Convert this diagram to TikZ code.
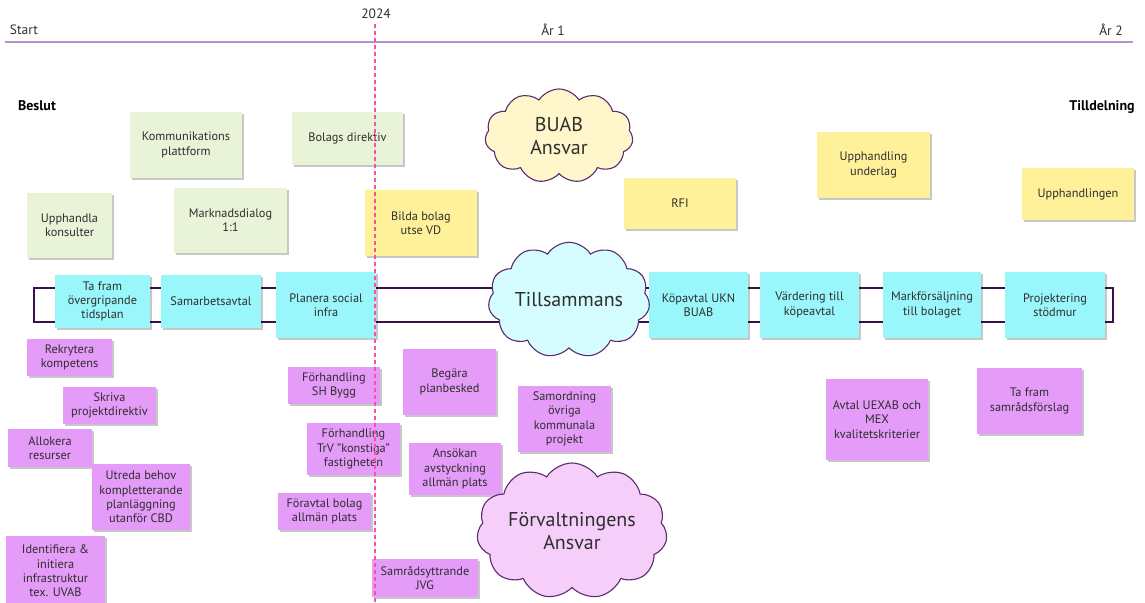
\documentclass[tikz,border=0pt]{standalone}
\usepackage{fontspec}
\setmainfont{PT Sans}
\usetikzlibrary{shapes.symbols,shadows}

\definecolor{inktext}{HTML}{2E2E2E}
\definecolor{axisline}{HTML}{B592C8}
\definecolor{todayline}{HTML}{FF4FA3}
\definecolor{bandline}{HTML}{3B0E4C}
\definecolor{cloudline}{HTML}{5B2C6F}
\definecolor{notegreen}{HTML}{E9F3D7}
\definecolor{noteyellow}{HTML}{FFF09A}
\definecolor{notecyan}{HTML}{99F6FB}
\definecolor{notepink}{HTML}{E59BF8}
\definecolor{cloudyellow}{HTML}{FFF6CB}
\definecolor{cloudcyan}{HTML}{D5FCFF}
\definecolor{cloudpink}{HTML}{F5CFFA}

\tikzset{
  sticky/.style={inner sep=1pt, align=center, text=inktext,
    font=\fontsize{12.3}{14.3}\selectfont,
    drop shadow={shadow xshift=1.6pt, shadow yshift=-1.8pt, fill=black, opacity=0.22}},
  greennote/.style={sticky, fill=notegreen},
  yellownote/.style={sticky, fill=noteyellow},
  cyannote/.style={sticky, fill=notecyan},
  pinknote/.style={sticky, fill=notepink},
  bubble/.style={cloud, cloud puffs=11, cloud puff arc=115, aspect=1.6,
    draw=cloudline, line width=1.1pt, align=center, text=inktext,
    font=\fontsize{20}{23}\selectfont, inner sep=0pt},
  axislabel/.style={text=inktext, font=\fontsize{13.5}{16}\selectfont},
  milestone/.style={text=black, font=\fontsize{14}{16}\selectfont\bfseries},
}

% name, style, x1, y1, x2, y2, text
\newcommand\stickynote[7]{%
  \node[#2, minimum width={(#5-#3)*1pt}, minimum height={(#6-#4)*1pt}]
    (#1) at ({(#3+#5)/2},{(#4+#6)/2}) {#7};}

\begin{document}
\begin{tikzpicture}[x=1pt, y=-1pt]
\useasboundingbox (0,0) rectangle (1145,602);
\clip (0,0) rectangle (1145,602);
\fill[white] (0,0) rectangle (1145,602);

% time axis
\draw[axisline, line width=1.4pt] (5,42) coordinate (axisL) -- (1133,42) coordinate (axisR);
\node[axislabel] (start) at (24,30) {Start};
\node[axislabel] (y2024) at (376,14) {2024};
\node[axislabel] (year1) at (553,30) {År 1};
\node[axislabel] (year2) at (1111,30) {År 2};
\node[milestone] (beslut) at (37,106) {Beslut};
\node[milestone] (tilldelning) at (1102,107) {Tilldelning};

% shared track behind the main activities
\draw[bandline, line width=2.8pt] (34,288) rectangle (1113,322);

% green notes
\stickynote{komm}{greennote}{130}{112}{242}{178}{Kommunikations\\plattform}
\stickynote{bolagsdir}{greennote}{292}{112}{403}{165}{Bolags direktiv}
\stickynote{konsult}{greennote}{27}{193}{112}{258}{Upphandla\\konsulter}
\stickynote{dialog}{greennote}{174}{188}{287}{253}{Marknadsdialog\\1:1}

% yellow notes
\stickynote{bilda}{yellownote}{365}{190}{477}{256}{Bilda bolag\\utse VD}
\stickynote{rfi}{yellownote}{624}{178}{736}{229}{RFI}
\stickynote{underlag}{yellownote}{817}{132}{930}{198}{Upphandling\\underlag}
\stickynote{upph}{yellownote}{1022}{168}{1134}{220}{Upphandlingen}

% cyan notes on the track
\stickynote{tidsplan}{cyannote}{55}{275}{150}{328}{Ta fram\\övergripande\\tidsplan}
\stickynote{samarb}{cyannote}{161}{275}{261}{328}{Samarbetsavtal}
\stickynote{social}{cyannote}{276}{272}{376}{338}{Planera social\\infra}
\stickynote{kopavtal}{cyannote}{649}{272}{748}{338}{Köpavtal UKN\\BUAB}
\stickynote{vardering}{cyannote}{760}{272}{859}{338}{Värdering till\\köpeavtal}
\stickynote{mark}{cyannote}{883}{272}{981}{338}{Markförsäljning\\till bolaget}
\stickynote{stodmur}{cyannote}{1005}{272}{1105}{338}{Projektering\\stödmur}

% pink notes
\stickynote{rekr}{pinknote}{27}{339}{112}{376}{Rekrytera\\kompetens}
\stickynote{skriva}{pinknote}{63}{387}{156}{424}{Skriva\\projektdirektiv}
\stickynote{allok}{pinknote}{8}{429}{92}{467}{Allokera\\resurser}
\stickynote{utreda}{pinknote}{92}{464}{190}{530}{Utreda behov\\kompletterande\\planläggning\\utanför CBD}
\stickynote{ident}{pinknote}{6}{536}{105}{606}{Identifiera \&\\initiera\\infrastruktur\\tex. UVAB}
\stickynote{shbygg}{pinknote}{288}{367}{380}{404}{Förhandling\\SH Bygg}
\stickynote{trv}{pinknote}{307}{423}{400}{475}{Förhandling\\TrV "konstiga"\\fastigheten}
\stickynote{foravtal}{pinknote}{278}{493}{371}{530}{Föravtal bolag\\allmän plats}
\stickynote{jvg}{pinknote}{372}{559}{478}{597}{Samrådsyttrande\\JVG}
\stickynote{planbesked}{pinknote}{403}{349}{496}{415}{Begära\\planbesked}
\stickynote{ansokan}{pinknote}{409}{443}{501}{495}{Ansökan\\avstyckning\\allmän plats}
\stickynote{samord}{pinknote}{518}{386}{611}{452}{Samordning\\övriga\\kommunala\\projekt}
\stickynote{uexab}{pinknote}{826}{379}{928}{460}{Avtal UEXAB och\\MEX\\kvalitetskriterier}
\stickynote{samrad}{pinknote}{977}{368}{1082}{434}{Ta fram\\samrådsförslag}

% responsibility clouds
\node[bubble, fill=cloudyellow, minimum width=148pt, minimum height=94pt] (buab) at (559,136) {BUAB\\Ansvar};
\node[bubble, fill=cloudcyan, minimum width=147pt, minimum height=95pt] (tills) at (569,300) {Tillsammans};
\node[bubble, fill=cloudpink, minimum width=170pt, minimum height=126pt] (forv) at (572,531) {Förvaltningens\\Ansvar};

% today marker
\draw[todayline, line width=1.1pt, dash pattern=on 4pt off 3pt] (375,24) coordinate (nowTop) -- (375,602) coordinate (nowBottom);
\end{tikzpicture}
\end{document}
